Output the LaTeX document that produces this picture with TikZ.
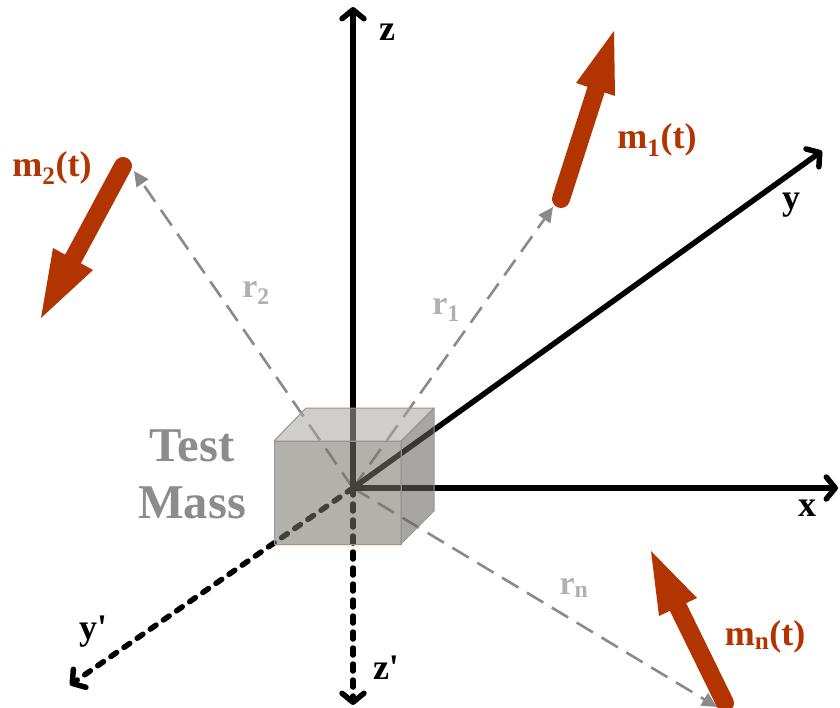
\documentclass[tikz,border=0pt]{standalone}
\usepackage{fontspec}
\setmainfont{Liberation Serif}
\newfontfamily\plainserif{Liberation Serif}
\usetikzlibrary{arrows.meta}
\definecolor{massred}{RGB}{178,52,0}
\definecolor{rgrey}{RGB}{138,138,138}
\definecolor{lblgrey}{RGB}{176,176,176}
\definecolor{tmgrey}{RGB}{140,140,140}
\definecolor{edgegrey}{RGB}{150,150,146}
\tikzset{
  axis/.style={line width=5.5pt,-{Straight Barb[length=9pt,width=22pt,round,line width=5.5pt]}},
  backaxis/.style={axis,line cap=round,dash pattern=on 7pt off 9pt},
  rline/.style={rgrey,line width=2.6pt,dash pattern=on 19pt off 10pt,-{Triangle[length=15pt,width=14pt]}},
  shaft/.style={massred,line width=18pt,line cap=round},
  head/.style={fill=massred,draw=none},
  lbl/.style={font=\plainserif\bfseries\fontsize{36}{38}\selectfont,inner sep=0pt},
  mlbl/.style={lbl,text=massred},
  rlbl/.style={font=\bfseries\fontsize{34}{36}\selectfont,inner sep=0pt,text=lblgrey},
  tm/.style={font=\bfseries\fontsize{48.5}{50}\selectfont,inner sep=0pt,text=tmgrey},
  face/.style={draw=edgegrey,line width=1pt,line join=round,fill opacity=.56}
}
\begin{document}
\begin{tikzpicture}[x=1pt,y=-1pt]
\useasboundingbox (0,0) rectangle (840,708);
\clip (0,0) rectangle (840,708);
\coordinate (o) at (353,488);
\coordinate (zp) at (353,7);
\coordinate (xp) at (838,488);
\coordinate (yp) at (822,151);
\coordinate (ym) at (70,685);
\coordinate (zm) at (353,705);
\coordinate (t1) at (553,207);
\coordinate (t2) at (134,171);
\coordinate (tn) at (717,707);
\coordinate (m1s) at (561,199);
\coordinate (m1e) at (596,90);
\coordinate (m2s) at (123,166);
\coordinate (m2e) at (73,259);
\coordinate (mns) at (725,703);
\coordinate (mne) at (678,607);
% shadow
\fill[orange!25,opacity=.5] (274,446) rectangle (402,547);
\fill[white] (274,441) rectangle (401,544);
% distance vectors
\draw[rline] (o) -- (t1);
\draw[rline] (o) -- (t2);
\draw[rline] (o) -- (tn);
% axes
\draw[axis] (o) -- (zp);
\draw[axis] (o) -- (xp);
\draw[axis] (o) -- (yp);
\draw[backaxis] (o) -- (ym);
\draw[backaxis] (o) -- (zm);
% cube
\filldraw[face,fill={rgb,255:red,171;green,166;blue,160}] (274,441) -- (306,408) -- (434,408) -- (401,441) -- cycle;
\filldraw[face,fill={rgb,255:red,100;green,96;blue,90}] (401,441) -- (434,408) -- (434,511) -- (401,544) -- cycle;
\filldraw[face,fill={rgb,255:red,123;green,116;blue,108}] (274,441) rectangle (401,544);
% moving masses
\draw[shaft] (m1s) -- (m1e);
\fill[head] (576,83) -- (614,31) -- (615,96) -- cycle;
\draw[shaft] (m2s) -- (m2e);
\fill[head] (53,248) -- (41,318) -- (93,270) -- cycle;
\draw[shaft] (mns) -- (mne);
\fill[head] (697,598) -- (651,551) -- (659,616) -- cycle;
% labels
\node[lbl] (lz) at (387,32) {z};
\node[lbl] (lx) at (807,508) {x};
\node[lbl] (ly) at (791,205) {y};
\node[lbl] (lym) at (93,632) {y'};
\node[lbl] (lzm) at (386,668) {z'};
\node[mlbl] (lm1) at (657,140) {m\textsubscript{1}(t)};
\node[mlbl] (lm2) at (52,168) {m\textsubscript{2}(t)};
\node[mlbl] (lmn) at (765,637) {m\textsubscript{n}(t)};
\node[rlbl] (lr1) at (446,310) {r\textsubscript{1}};
\node[rlbl] (lr2) at (256,293) {r\textsubscript{2}};
\node[rlbl] (lrn) at (574,588) {r\textsubscript{n}};
\node[tm] (lt) at (192,446) {Test};
\node[tm] (lm) at (192,503) {Mass};
\end{tikzpicture}
\end{document}
